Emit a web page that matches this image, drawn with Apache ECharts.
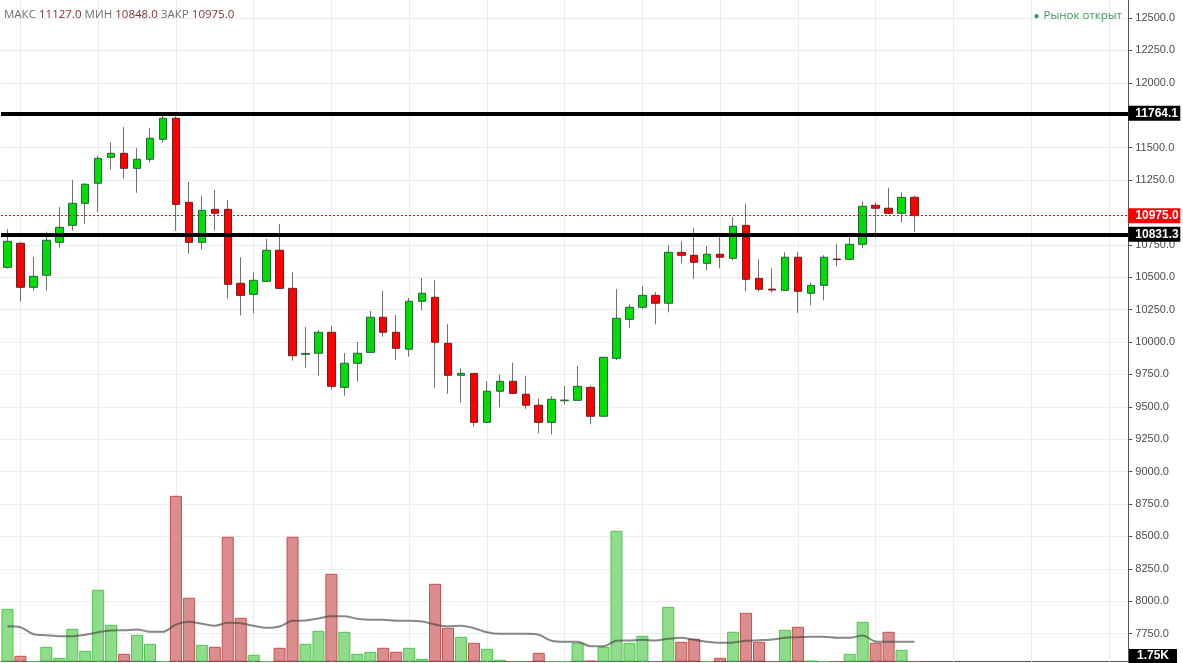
<!DOCTYPE html>
<html><head><meta charset="utf-8">
<script src="https://cdn.jsdelivr.net/npm/echarts@6/dist/echarts.min.js"></script>
<style>html,body{margin:0;padding:0;background:#fff;overflow:hidden}#c{width:1183px;height:663px}</style>
</head><body><div id="c"></div>
<script>
// ---- data ----
const slotCount = 87; // 71 candles + empty space on the right
const categories = Array.from({length: slotCount}, (_, i) => String(i + 1));
const openP  = [10576,10762,10422,10515,10769,10900,11070,11225,11425,11456,11340,11410,11564,11726,11078,10769,11024,11024,10453,10368,10468,10708,10414,9905,9913,10075,9650,9836,9920,10191,10075,9944,10314,10345,9990,9743,9758,9380,9620,9697,9597,9512,9380,9547,9550,9650,9427,9874,10175,10268,10360,10299,10692,10669,10607,10677,10646,10900,10491,10408,10399,10654,10376,10437,10640,10638,10754,11055,11032,10993,11117];
const highP  = [10872,10769,10656,10851,11042,11250,11227,11437,11543,11659,11495,11651,11744,11775,11235,11127,11173,11096,10654,10538,10795,10910,10538,10116,10093,10124,9915,10000,10239,10394,10208,10340,10494,10478,10137,9797,9760,9697,9748,9840,9740,9566,9581,9661,9815,9666,9882,10409,10291,10432,10384,10749,10777,10877,10741,10823,10964,11065,10638,10569,10692,10692,10461,10669,10756,10823,11086,11078,11188,11155,11127];
const lowP   = [10566,10311,10396,10396,10728,10859,10913,11005,11330,11260,11152,11387,11538,10857,10681,10712,10859,10334,10206,10221,10466,10410,9856,9802,9740,9632,9586,9694,9915,10041,9863,9887,10245,9647,9601,9532,9347,9378,9496,9597,9485,9296,9288,9519,9548,9365,9425,9861,10110,10252,10137,10229,10607,10488,10553,10569,10630,10391,10391,10383,10397,10226,10283,10322,10584,10636,10723,10808,10985,10924,10848];
const closeP = [10777,10422,10507,10785,10885,11070,11217,11417,11456,11340,11410,11572,11726,11062,10769,11016,10993,10445,10360,10476,10708,10414,9894,9912,10075,9658,9836,9913,10191,10075,9951,10314,10376,9998,9743,9758,9380,9620,9697,9604,9512,9380,9558,9552,9658,9427,9882,10183,10268,10360,10299,10692,10669,10615,10677,10654,10893,10484,10407,10401,10654,10391,10437,10654,10636,10754,11047,11032,10993,11116,10975];
const volume = [4680,506,0,1305,329,2904,950,6367,3259,684,2371,1572,0,14714,5657,1483,1305,11073,3881,595,0,1217,11073,1572,2726,7788,2637,684,861,1217,861,1217,240,6900,2993,2193,1661,1128,151,0,0,773,0,0,1661,62,1305,11606,1661,2282,0,4857,1749,2016,0,329,2637,4325,1749,0,2815,3081,62,0,0,684,3525,1661,2637,1039,0];
const volumeMA = [3135,3046,2424,2335,2247,2247,2371,2602,2753,2779,2842,2637,2637,3286,3525,3348,3170,3437,3401,3170,2993,3108,3614,3641,3818,4023,4023,3792,3703,3703,3614,3614,3552,3286,3135,3170,2957,2602,2460,2460,2460,2371,1838,1749,1749,1359,1359,1838,1865,1927,1865,2016,2105,1927,1749,1661,1687,1838,1891,1954,2105,2158,2193,2193,2105,2105,2309,1776,1749,1749,1749];
const levelLines = [11764.1, 10831.3];
const priceMin = 7500, priceMax = 12750, priceStep = 250;
const volMax = 17760;

// ---- build ----
const last = openP.length - 1;
const wickData = openP.map((o, i) => [o, closeP[i], lowP[i], highP[i]]);
const bodyData = openP.map((o, i) => [o, closeP[i], Math.min(o, closeP[i]), Math.max(o, closeP[i])]);
const volData = volume.map((v, i) => ({
  value: v,
  itemStyle: closeP[i] >= openP[i]
    ? {color: '#8fdc8a', borderColor: '#4fc44f'}
    : {color: '#dc8e8e', borderColor: '#c64e4e'}
}));
const vGrid = [];
for (let i = 1; i < slotCount; i += 6) vGrid.push({xAxis: i});

const axisFont = 'Liberation Sans, Arial, sans-serif';
const tagLabel = bg => ({
  show: true, position: 'end', distance: 0, formatter: p => p.value.toFixed(1),
  backgroundColor: bg, color: '#fff', fontWeight: 'bold', fontSize: 12, fontFamily: axisFont,
  padding: [2, 5, 1, 7], width: 40
});
const chart = echarts.init(document.getElementById('c'), null, {renderer: 'canvas'});
chart.setOption({
  animation: false,
  backgroundColor: '#fff',
  title: [
    {
      left: -1, top: 4,
      text: '{l|МАКС} {v|' + highP[last].toFixed(1) + '} {l|МИН} {v|' + lowP[last].toFixed(1) + '} {l|ЗАКР} {v|' + closeP[last].toFixed(1) + '}',
      textStyle: {
        fontSize: 12, fontWeight: 'normal', fontFamily: 'Open Sans, sans-serif',
        rich: {
          l: {color: '#6f6f6f', fontSize: 11.5, fontFamily: 'Open Sans, sans-serif'},
          v: {color: '#853030', fontSize: 11.5, fontFamily: 'Open Sans, sans-serif'}
        }
      }
    },
    {
      right: 56, top: 5,
      text: '{d|●}{t|Рынок открыт}',
      textStyle: {
        fontWeight: 'normal',
        rich: {
          d: {color: '#3a9a5e', fontSize: 10, padding: [0, 4, 0, 0]},
          t: {color: '#3a9a5e', fontSize: 11.5, fontFamily: 'Open Sans, sans-serif'}
        }
      }
    }
  ],
  grid: [
    {left: 1, right: 54.7, top: -14.4, bottom: -3, containLabel: false, outerBoundsMode: 'none'},
    {left: 1, right: 54.7, top: 461.5, bottom: 1.5, containLabel: false, outerBoundsMode: 'none'}
  ],
  xAxis: [
    {type: 'category', gridIndex: 0, data: categories, boundaryGap: true,
     axisLine: {show: false}, axisTick: {show: false}, axisLabel: {show: false}, splitLine: {show: false}},
    {type: 'category', gridIndex: 1, data: categories, boundaryGap: true,
     axisLine: {show: true, lineStyle: {color: '#555', width: 1}}, axisTick: {show: false}, axisLabel: {show: false}, splitLine: {show: false}}
  ],
  yAxis: [
    {type: 'value', gridIndex: 0, position: 'right', min: priceMin, max: priceMax, interval: priceStep,
     axisLine: {show: true, lineStyle: {color: '#555', width: 1}},
     axisTick: {show: true, length: 4, lineStyle: {color: '#555'}},
     axisLabel: {show: true, margin: 7, color: '#4d4d4d', fontSize: 11, fontFamily: axisFont,
       formatter: v => (Math.abs(v - closeP[last]) < 60 ? '' : v.toFixed(1))},
     splitLine: {show: true, lineStyle: {color: '#ededed', width: 1}}},
    {type: 'value', gridIndex: 1, min: 0, max: volMax, show: false, splitLine: {show: false}}
  ],
  series: [
    {
      name: 'wick', type: 'candlestick', xAxisIndex: 0, yAxisIndex: 0,
      data: wickData, barWidth: 1, z: 2,
      itemStyle: {color: '#707070', color0: '#707070', borderColor: '#707070', borderColor0: '#707070', borderWidth: 1},
      markLine: {
        silent: true, symbol: ['none', 'none'], z: 1, animation: false,
        label: {show: false},
        lineStyle: {color: '#ececec', width: 1, type: 'solid'},
        data: vGrid
      }
    },
    {
      name: 'body', type: 'candlestick', xAxisIndex: 0, yAxisIndex: 0,
      data: bodyData, barWidth: 8, z: 3,
      itemStyle: {color: '#00dd00', color0: '#ff0000', borderColor: '#25633a', borderColor0: '#7a1c1c', borderWidth: 1},
      markLine: {
        silent: true, symbol: ['none', 'none'], z: 6, animation: false,
        data: [
          ...levelLines.map(v => ({
            yAxis: v,
            lineStyle: {color: '#000', width: 4, type: 'solid'},
            label: tagLabel('#000')
          })),
          {
            yAxis: closeP[last],
            lineStyle: {color: '#e01010', width: 1, type: [2, 2]},
            label: tagLabel('#ff0000')
          }
        ]
      }
    },
    {
      name: 'volume', type: 'bar', xAxisIndex: 1, yAxisIndex: 1,
      data: volData, barWidth: 12, z: 2,
      itemStyle: {borderWidth: 1}
    },
    {
      name: 'volumeMA', type: 'line', xAxisIndex: 1, yAxisIndex: 1,
      data: volumeMA, smooth: 0.3, symbol: 'none', z: 4,
      lineStyle: {color: 'rgba(70,70,70,0.65)', width: 2}
    }
  ],
  graphic: [
    {
      type: 'text', left: 1129, top: 649, z: 100,
      style: {
        text: (volumeMA[last] / 1000).toFixed(2) + 'K',
        fill: '#fff', font: 'bold 12px ' + axisFont,
        backgroundColor: '#000', padding: [1, 8, 1, 8]
      }
    }
  ]
});
</script>
</body></html>
